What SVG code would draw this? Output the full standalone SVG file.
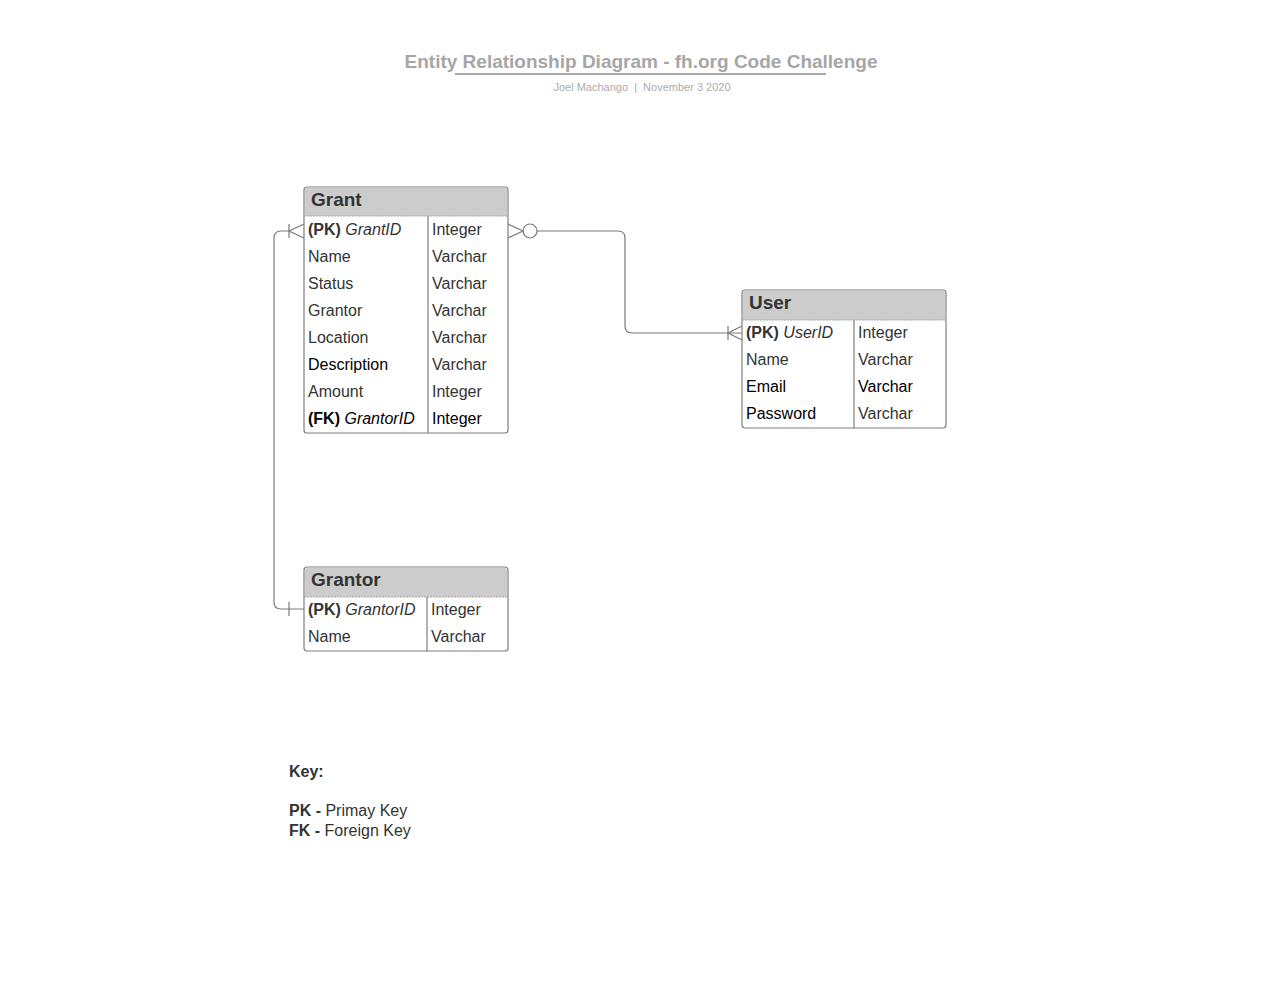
<svg xmlns="http://www.w3.org/2000/svg" width="1280" height="984" viewBox="0 0 1280 984">
<style>
text{font-family:"Liberation Sans",Arial,sans-serif}
.title{font-size:19px;font-weight:bold;fill:#a6a6a6}
.sub{font-size:11px;fill:#ababab}
.box{fill:#fff;stroke:#7f7f7f;stroke-width:1.2}
.head{fill:#cccccc}
.hsep{stroke:#a8a8a8;stroke-width:1;stroke-dasharray:2 1}
.div{stroke:#7f7f7f;stroke-width:1.2}
.ht{font-size:19px;font-weight:bold;fill:#333}
.t{font-size:16px;fill:#333}
.k{font-size:16px;fill:#000}
.b{font-weight:bold}
.i{font-style:italic}
.conn{fill:none;stroke:#7a7a7a;stroke-width:1.2}
.key{font-size:16px;fill:#333}
</style>
<rect width="1280" height="984" fill="#fff"/>
<g id="title">
<text class="title" x="641" y="68" text-anchor="middle">Entity Relationship Diagram - fh.org Code Challenge</text>
<line x1="455" y1="74" x2="826" y2="74" stroke="#a6a6a6" stroke-width="2"/>
<text class="sub" x="642" y="91" text-anchor="middle" xml:space="preserve">Joel Machango  |  November 3 2020</text>
</g>
<g id="connectors">
<path class="conn" d="M289,231 H281 Q274,231 274,238 V602 Q274,609 281,609 H304"/>
<line class="conn" x1="289" y1="224" x2="289" y2="238"/>
<path class="conn" d="M304,224 L289,231 L304,238"/>
<line class="conn" x1="289" y1="602" x2="289" y2="616"/>
<path class="conn" d="M508,224 L523,231 L508,238"/>
<circle class="conn" cx="530" cy="231" r="7"/>
<path class="conn" d="M537,231 H618 Q625,231 625,238 V326 Q625,333 632,333 H742"/>
<line class="conn" x1="728" y1="326" x2="728" y2="340"/>
<path class="conn" d="M742,326 L728,333 L742,340"/>
</g>
<g id="grant">
<rect class="box" x="304" y="187" width="204" height="246" rx="3"/>
<path class="head" d="M305,216 V190 Q305,188 307,188 H505 Q507,188 507,190 V216 Z"/>
<line class="hsep" x1="304" y1="216" x2="508" y2="216"/>
<line class="div" x1="428" y1="216" x2="428" y2="433"/>
<text class="ht" x="311" y="206">Grant</text>
<text class="t" x="308" y="235"><tspan class="b">(PK)</tspan> <tspan class="i">GrantID</tspan></text>
<text class="t" x="432" y="235">Integer</text>
<text class="t" x="308" y="262">Name</text><text class="t" x="432" y="262">Varchar</text>
<text class="t" x="308" y="289">Status</text><text class="t" x="432" y="289">Varchar</text>
<text class="t" x="308" y="316">Grantor</text><text class="t" x="432" y="316">Varchar</text>
<text class="t" x="308" y="343">Location</text><text class="t" x="432" y="343">Varchar</text>
<text class="k" x="308" y="370">Description</text><text class="t" x="432" y="370">Varchar</text>
<text class="t" x="308" y="397">Amount</text><text class="t" x="432" y="397">Integer</text>
<text class="k" x="308" y="424"><tspan class="b">(FK)</tspan> <tspan class="i">GrantorID</tspan></text>
<text class="k" x="432" y="424">Integer</text>
</g>
<g id="user">
<rect class="box" x="742" y="290" width="204" height="138" rx="3"/>
<path class="head" d="M743,320 V293 Q743,291 745,291 H943 Q945,291 945,293 V320 Z"/>
<line class="hsep" x1="742" y1="320" x2="946" y2="320"/>
<line class="div" x1="854" y1="320" x2="854" y2="428"/>
<text class="ht" x="749" y="309">User</text>
<text class="t" x="746" y="338"><tspan class="b">(PK)</tspan> <tspan class="i">UserID</tspan></text>
<text class="t" x="858" y="338">Integer</text>
<text class="t" x="746" y="365">Name</text><text class="t" x="858" y="365">Varchar</text>
<text class="k" x="746" y="392">Email</text><text class="k" x="858" y="392">Varchar</text>
<text class="k" x="746" y="419">Password</text><text class="t" x="858" y="419">Varchar</text>
</g>
<g id="grantor">
<rect class="box" x="304" y="567" width="204" height="84" rx="3"/>
<path class="head" d="M305,597 V570 Q305,568 307,568 H505 Q507,568 507,570 V597 Z"/>
<line class="hsep" x1="304" y1="597" x2="508" y2="597"/>
<line class="div" x1="427" y1="597" x2="427" y2="651"/>
<text class="ht" x="311" y="586">Grantor</text>
<text class="t" x="308" y="615"><tspan class="b">(PK)</tspan> <tspan class="i">GrantorID</tspan></text>
<text class="t" x="431" y="615">Integer</text>
<text class="t" x="308" y="642">Name</text><text class="t" x="431" y="642">Varchar</text>
</g>
<g id="key">
<text class="key b" x="289" y="777">Key:</text>
<text class="key" x="289" y="816"><tspan class="b">PK -</tspan> Primay Key</text>
<text class="key" x="289" y="836"><tspan class="b">FK -</tspan> Foreign Key</text>
</g>
</svg>
